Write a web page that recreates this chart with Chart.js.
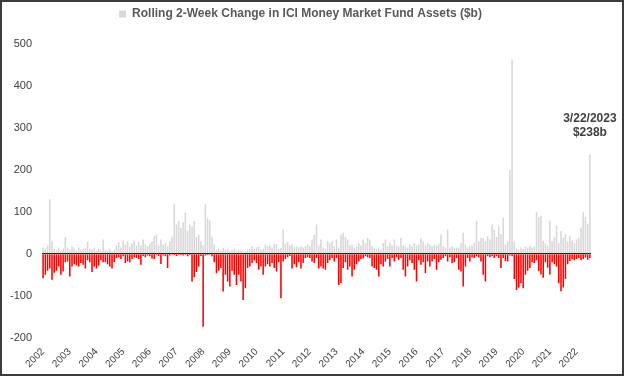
<!DOCTYPE html>
<html>
<head>
<meta charset="utf-8">
<script src="https://cdn.jsdelivr.net/npm/chart.js@4.4.1/dist/chart.umd.min.js"></script>
<style>
  html, body { margin: 0; padding: 0; background: #fff; }
  #frame { width: 620px; height: 372px; border: 2px solid #3c3c3c; }
</style>
</head>
<body>
<div id="frame"><canvas id="mmfChart" width="620" height="372"></canvas></div>
<script>
// Monthly bins starting Sep 2002, last bin = week of 3/22/2023
const years = ['2002', '2003', '2004', '2005', '2006', '2007', '2008', '2009', '2010', '2011',
    '2012', '2013', '2014', '2015', '2016', '2017', '2018', '2019', '2020', '2021', '2022'];

// Largest inflow seen in each bin ($b)
const gains = [
    15, 12, 20, 130, 30, 12, 10, 15, 8, 12, 40, 15,
    10, 18, 12, 8, 15, 10, 12, 14, 29, 12, 10, 15,
    8, 12, 10, 34, 10, 8, 12, 6, 10, 20, 28, 15,
    32, 22, 30, 18, 25, 32, 20, 28, 20, 34, 22, 18,
    25, 30, 42, 46, 20, 34, 22, 25, 18, 30, 40, 118,
    70, 78, 62, 75, 98, 55, 70, 65, 78, 40, 46, 30,
    20, 118, 84, 80, 40, 22, 10, 12, 8, 14, 10, 12,
    8, 10, 12, 8, 10, 8, 5, 6, 10, 12, 18, 12,
    16, 18, 10, 12, 22, 18, 20, 15, 24, 22, 12, 14,
    58, 24, 28, 20, 22, 15, 18, 16, 18, 15, 18, 22,
    18, 34, 46, 70, 20, 34, 15, 12, 30, 25, 30, 18,
    34, 15, 46, 50, 40, 34, 20, 22, 15, 18, 26, 20,
    34, 25, 38, 34, 18, 14, 12, 15, 10, 26, 34, 18,
    26, 20, 34, 20, 18, 38, 20, 18, 15, 22, 18, 26,
    20, 22, 38, 30, 20, 26, 22, 18, 22, 20, 24, 46,
    18, 15, 58, 15, 18, 14, 15, 15, 26, 50, 22, 15,
    18, 20, 26, 78, 30, 38, 38, 30, 42, 35, 70, 58,
    40, 66, 47, 86, 22, 30, 200, 463, 30, 12, 10, 15,
    12, 18, 15, 20, 15, 18, 100, 87, 91, 31, 25, 19,
    79, 30, 39, 67, 25, 55, 39, 47, 30, 43, 31, 25,
    35, 39, 63, 99, 87, 71, 238
];

// Largest outflow seen in each bin ($b)
const losses = [
    -58, -50, -40, -35, -62, -45, -40, -30, -50, -42, -20, -18,
    -54, -30, -25, -28, -30, -22, -26, -35, -15, -20, -43, -30,
    -35, -28, -15, -20, -20, -25, -30, -35, -20, -10, -8, -12,
    -6, -22, -18, -20, -12, -8, -10, -12, -26, -5, -8, -4,
    -6, -11, -12, -3, -5, -24, -4, -6, -34, -4, -2, -3,
    -5, -2, -3, -4, -2, -6, -3, -66, -55, -43, -30, -5,
    -174, -4, -3, -2, -6, -20, -46, -40, -34, -90, -50, -66,
    -78, -40, -50, -74, -50, -66, -110, -82, -34, -30, -22, -15,
    -22, -38, -30, -50, -30, -25, -30, -22, -34, -42, -20, -106,
    -18, -12, -8, -5, -35, -25, -32, -20, -35, -22, -10, -8,
    -10, -18, -22, -10, -35, -30, -35, -38, -22, -15, -10, -18,
    -10, -74, -70, -34, -20, -38, -30, -54, -38, -25, -18, -12,
    -11, -6, -8, -10, -30, -34, -38, -54, -25, -30, -18, -12,
    -30, -10, -18, -8, -14, -10, -38, -54, -30, -15, -22, -38,
    -66, -15, -26, -20, -46, -18, -30, -18, -12, -38, -20, -14,
    -10, -6, -18, -8, -22, -20, -10, -38, -42, -78, -30, -10,
    -18, -8, -10, -6, -8, -18, -50, -66, -6, -8, -5, -10,
    -6, -10, -34, -10, -17, -18, -4, -6, -60, -86, -80, -70,
    -82, -50, -40, -34, -20, -22, -15, -41, -49, -57, -20, -33,
    -49, -20, -25, -30, -70, -89, -80, -60, -25, -17, -13, -15,
    -12, -10, -15, -12, -9, -14, -10
];

const yTicks = [-200, -100, 0, 100, 200, 300, 400, 500];
const callout = ['3/22/2023', '$238b'];

const FONT = "'Liberation Sans', Arial, sans-serif";

// one category per bin, named by the year label it falls under
const labels = gains.map(function(v, i) {
    return years[Math.floor(i / 12)] || '2023';
});

// extra gap under the legend
const legendGap = {
    id: 'legendGap',
    beforeInit(chart) {
        const fit = chart.legend.fit;
        chart.legend.fit = function() {
            fit.bind(chart.legend)();
            this.height += 14;
        };
    }
};

// "3/22/2023 / $238b" text over the last bar
const lastBarNote = {
    id: 'lastBarNote',
    afterDatasetsDraw(chart) {
        const meta = chart.getDatasetMeta(0);
        const bar = meta.data[meta.data.length - 1];
        const ctx = chart.ctx;
        ctx.save();
        ctx.font = "bold 12px " + FONT;
        ctx.fillStyle = '#404040';
        ctx.textAlign = 'center';
        ctx.textBaseline = 'middle';
        ctx.fillText(callout[0], bar.x, bar.y - 35);
        ctx.fillText(callout[1], bar.x, bar.y - 21);
        ctx.restore();
    }
};

new Chart(document.getElementById('mmfChart'), {
    type: 'bar',
    data: {
        labels: labels,
        datasets: [{
            label: 'Rolling 2-Week Change in ICI Money Market Fund Assets ($b)',
            data: gains,
            backgroundColor: '#d8d8d8',
            grouped: false,
            barPercentage: 0.7,
            categoryPercentage: 1
        }, {
            label: 'Outflows',
            data: losses,
            backgroundColor: '#ff0000',
            grouped: false,
            barPercentage: 0.7,
            categoryPercentage: 1
        }]
    },
    options: {
        responsive: false,
        animation: false,
        layout: {
            padding: { left: 8, right: 31, top: 2, bottom: 4 }
        },
        plugins: {
            legend: {
                position: 'top',
                labels: {
                    filter: function(item) { return item.datasetIndex === 0; },
                    boxWidth: 7,
                    boxHeight: 7,
                    padding: 4,
                    color: '#595959',
                    font: { family: FONT, size: 12, weight: 'bold' }
                }
            },
            tooltip: { enabled: false }
        },
        scales: {
            x: {
                grid: { display: false },
                border: { display: false },
                afterFit: function(scale) {
                    // rotated year labels may hang past the plot edges
                    scale.paddingLeft = 0;
                    scale.paddingRight = 0;
                },
                ticks: {
                    autoSkip: false,
                    maxRotation: 45,
                    minRotation: 45,
                    color: '#404040',
                    font: { family: FONT, size: 10 },
                    padding: 0,
                    callback: function(value, index) {
                        return index % 12 === 0 ? years[index / 12] : '';
                    }
                }
            },
            y: {
                min: -200,
                max: 500,
                afterBuildTicks: function(axis) {
                    axis.ticks = yTicks.map(function(v) { return { value: v }; });
                },
                afterFit: function(scale) {
                    scale.width = 32;
                },
                border: { display: false },
                grid: {
                    drawTicks: false,
                    color: function(c) { return c.tick && c.tick.value === 0 ? '#000000' : 'rgba(0,0,0,0)'; },
                    lineWidth: 1
                },
                ticks: {
                    color: '#404040',
                    padding: 10,
                    font: { family: FONT, size: 11 }
                }
            }
        }
    },
    plugins: [legendGap, lastBarNote]
});
</script>
</body>
</html>
